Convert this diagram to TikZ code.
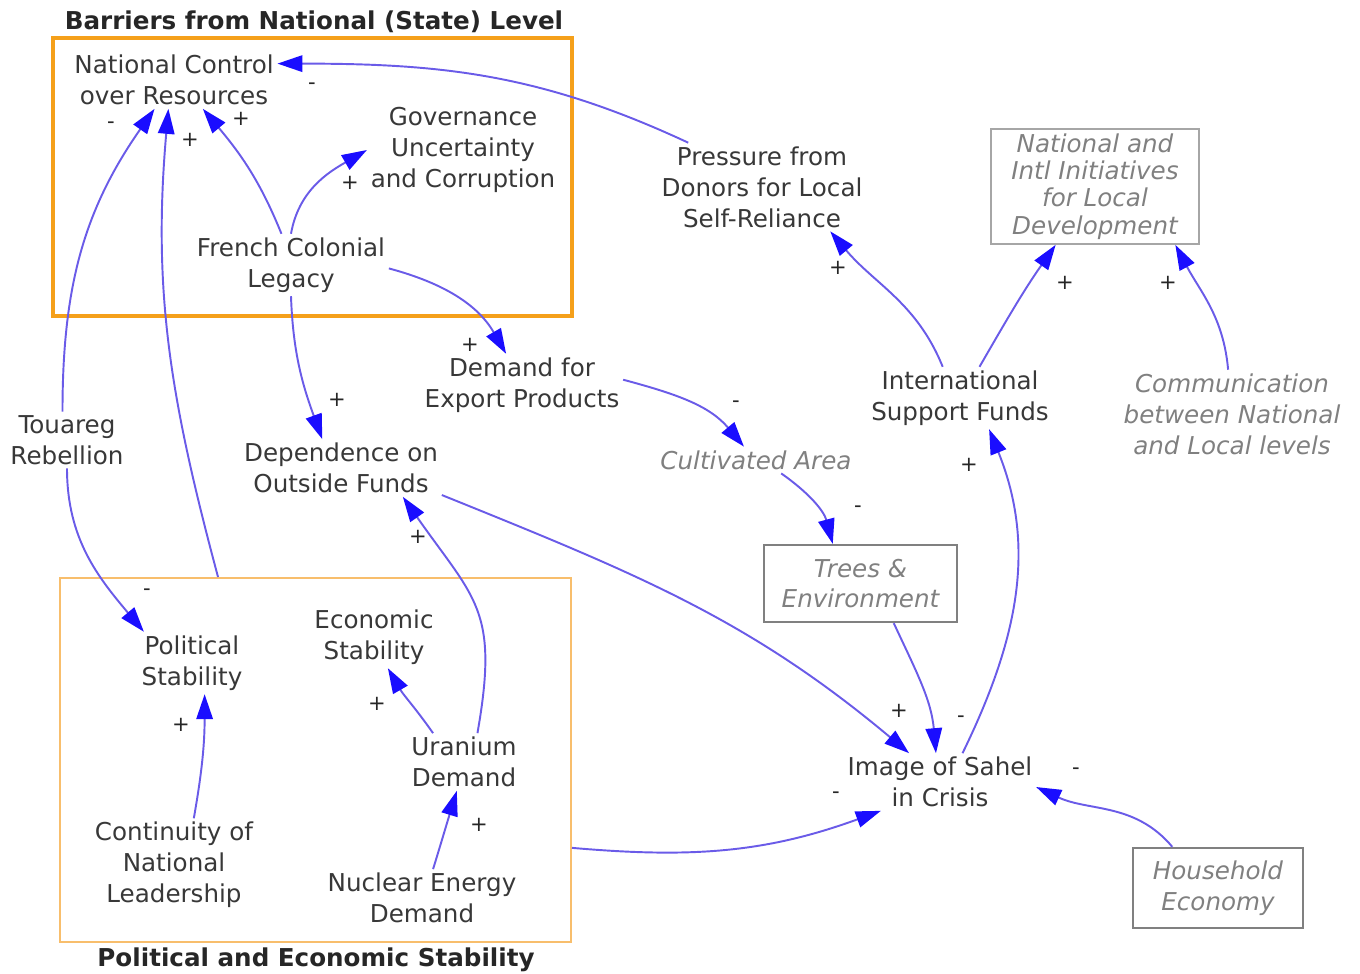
\documentclass[tikz,border=0pt]{standalone}
\usepackage{fontspec}
\setmainfont{DejaVu Sans}
\usetikzlibrary{arrows.meta, calc}
\definecolor{cOrange}{HTML}{F5A01A}
\definecolor{cOrangeLt}{HTML}{F8BE6C}
\definecolor{cLink}{HTML}{6A5BE8}
\definecolor{cTip}{HTML}{1A0DFF}
\definecolor{cText}{HTML}{383838}
\definecolor{cExt}{HTML}{808080}

\begin{document}
\begin{tikzpicture}[
  x=0.02cm, y=-0.02cm,
  var/.style={
    font=\fontsize{14}{17.6}\selectfont, text=cText,
    align=center, inner sep=2pt
  },
  extvar/.style={
    var, text=cExt, font=\fontsize{14}{17.6}\selectfont\itshape
  },
  extbox/.style={
    extvar, draw=#1, line width=1.3pt, inner sep=0pt
  },
  grouptitle/.style={
    font=\fontsize{14}{17}\selectfont\bfseries, text=black!85
  },
  groupbox/.style={
    draw=#1, inner sep=0pt
  },
  sign/.style={
    font=\fontsize{12}{12}\selectfont, text=black!85, inner sep=0pt
  },
  link/.style={
    draw=cLink, line width=1.1pt,
    -{Triangle[length=0.5cm, width=0.33cm, color=cTip, fill=cTip]}
  },
]
\useasboundingbox (0,0) rectangle (1360,974);

% group boxes
\node[groupbox=cOrange, line width=1.8pt,
  minimum width=10.38cm, minimum height=5.56cm] (natbox) at (312.5,177) {};
\node[grouptitle] (nattitle) at (314,22) {Barriers from National (State) Level};
\node[groupbox=cOrangeLt, line width=1.2pt,
  minimum width=10.22cm, minimum height=7.28cm] (pebox) at (315.5,760) {};
\node[grouptitle] (petitle) at (316,960) {Political and Economic Stability};
\coordinate (peTop) at ($(pebox.north west)!0.31!(pebox.north east)$);
\coordinate (peRight) at ($(pebox.north east)!0.74!(pebox.south east)$);

% variables
\node[var] (natctrl) at (174,80) {National Control\\over Resources};
\node[var] (governance) at (463,150) {Governance\\Uncertainty\\and Corruption};
\node[var] (french) at (291,265) {French Colonial\\Legacy};
\node[var] (pressure) at (762,187) {Pressure from\\Donors for Local\\Self-Reliance};
\node[extbox=cExt!70, line width=1pt, minimum width=4.16cm, minimum height=2.3cm,
  font=\fontsize{14}{15.6}\selectfont\itshape] (initiatives) at (1095,186.5)
  {National and\\Intl Initiatives\\for Local\\Development};
\node[var] (export) at (522,385) {Demand for\\Export Products};
\node[var] (depend) at (341,468) {Dependence on\\Outside Funds};
\node[var] (touareg) at (67,440) {Touareg\\Rebellion};
\node[extvar] (cultivated) at (756,460) {Cultivated Area};
\node[var] (intl) at (960,398) {International\\Support Funds};
\node[extvar] (comm) at (1232,414) {Communication\\between National\\and Local levels};
\node[extbox=cExt, minimum width=3.86cm, minimum height=1.54cm] (trees)
  at (860.5,583.5) {Trees \&\\Environment};
\node[var] (polstab) at (192,663) {Political\\Stability};
\node[var] (econ) at (374,637) {Economic\\Stability};
\node[var] (uranium) at (464,762) {Uranium\\Demand};
\node[var] (continuity) at (174,865) {Continuity of\\National\\Leadership};
\node[var] (nuclear) at (422,898) {Nuclear Energy\\Demand};
\node[var] (image) at (940,782) {Image of Sahel\\in Crisis};
\node[extbox=cExt, minimum width=3.4cm, minimum height=1.6cm] (household)
  at (1218,888) {Household\\Economy};

% links
\draw[link] (pressure.149) to[out=155, in=0] (natctrl.9);
\draw[link] (touareg.99) to[out=90, in=-125] (natctrl.-124);
\draw[link] (touareg.-90) to[out=-90, in=130] (polstab.147);
\draw[link] (peTop) to[out=105, in=-95] (natctrl.-101);
\draw[link] (french.107) to[out=112, in=-50] (natctrl.-45);
\draw[link] (french.90) to[out=80, in=-150] (governance.180);
\draw[link] (french.-2) to[out=-15, in=120] (export.117);
\draw[link] (french.-90) to[out=-88, in=110] (depend.123);
\draw[link] (export.3) to[out=-15, in=130] (cultivated.132);
\draw[link] (cultivated.-28) to[out=-35, in=105] (trees.125);
\draw[link] (trees.-50) to[out=-65, in=95] (image.98);
\draw[link] (depend.-15) to[out=-22, in=140] (image.137);
\draw[link] (image.52) to[out=64, in=-68] (intl.-47);
\draw[link] (intl.119) to[out=112, in=-50] (pressure.-33);
\draw[link] (intl.58) to[out=60, in=-125] (initiatives.-124);
\draw[link] (comm.95) to[out=95, in=-62] (initiatives.-36);
\draw[link] (household.138) to[out=130, in=-25] (image.-3);
\draw[link] (peRight) to[out=-5, in=-160] (image.-154);
\draw[link] (uranium.65) to[out=80, in=-55, looseness=1.3] (depend.-25);
\draw[link] (uranium.137) to[out=125, in=-60] (econ.-66);
\draw[link] (continuity.67) to[out=80, in=-90] (polstab.-68);
\draw[link] (nuclear.69) to[out=73, in=-107] (uranium.-104);

% polarity signs
\node[sign] (sgnPress) at (312,86) {-};
\node[sign] (sgnTouNat) at (111,125) {-};
\node[sign] (sgnPeNat) at (190,140) {+};
\node[sign] (sgnFreNat) at (241,119) {+};
\node[sign] (sgnFreGov) at (350,183) {+};
\node[sign] (sgnFreExp) at (470,345) {+};
\node[sign] (sgnFreDep) at (337,400) {+};
\node[sign] (sgnExpCult) at (736,404) {-};
\node[sign] (sgnCultTree) at (858,509) {-};
\node[sign] (sgnDepImg) at (899,711) {+};
\node[sign] (sgnTreeImg) at (961,719) {-};
\node[sign] (sgnImgIntl) at (969,465) {+};
\node[sign] (sgnIntlPress) at (838,268) {+};
\node[sign] (sgnIntlInit) at (1065,283) {+};
\node[sign] (sgnCommInit) at (1168,283) {+};
\node[sign] (sgnHouseImg) at (1076,771) {-};
\node[sign] (sgnPeImg) at (836,795) {-};
\node[sign] (sgnUraDep) at (418,537) {+};
\node[sign] (sgnUraEcon) at (377,704) {+};
\node[sign] (sgnContPol) at (181,725) {+};
\node[sign] (sgnNucUra) at (479,825) {+};
\node[sign] (sgnTouPol) at (147,592) {-};

\end{tikzpicture}
\end{document}
